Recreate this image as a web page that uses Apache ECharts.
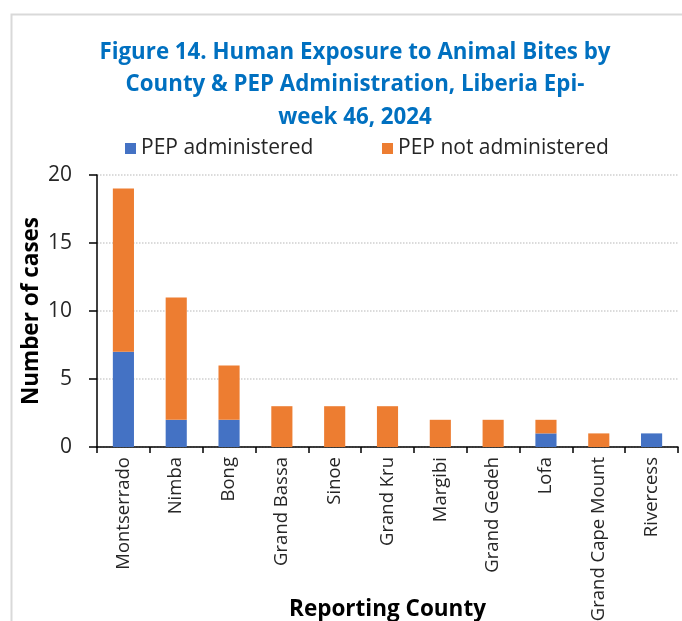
<!DOCTYPE html>
<html>
<head>
<meta charset="utf-8">
<script src="https://cdn.jsdelivr.net/npm/echarts@6/dist/echarts.min.js"></script>
<style>html,body{margin:0;padding:0;background:#fff}#c{width:682px;height:621px}</style>
</head>
<body>
<div id="c"></div>
<script>
const counties = ["Montserrado","Nimba","Bong","Grand Bassa","Sinoe","Grand Kru","Margibi","Grand Gedeh","Lofa","Grand Cape Mount","Rivercess"];
const pepAdministered = [7,2,2,0,0,0,0,0,1,0,1];
const pepNotAdministered = [12,9,4,3,3,3,2,2,1,1,0];
const yTicks = [0,5,10,15,20];
const titleLines = ["Figure 14. Human Exposure to Animal Bites by","County & PEP Administration, Liberia Epi-","week 46, 2024"];

const FONT = "'Open Sans', 'Noto Sans', sans-serif";
const chart = echarts.init(document.getElementById('c'), null, {renderer:'canvas'});
chart.setOption({
  animation:false,
  backgroundColor:'#fff',
  graphic:[{type:'rect', left:9, top:12, shape:{width:720,height:700}, style:{fill:'none', stroke:'#d9d9d9', lineWidth:2}, silent:true}],
  title:{
    text:titleLines.join('\n'), left:350, top:31, textAlign:'center',
    textStyle:{color:'#0070C0', fontFamily:FONT, fontWeight:'bold', fontSize:22.3, lineHeight:32.5}
  },
  legend:[
    {data:['PEP administered'], left:120, top:133, itemWidth:11, itemHeight:11, icon:'rect',
     textStyle:{fontFamily:FONT, fontSize:21, color:'#262626'}},
    {data:['PEP not administered'], left:377, top:133, itemWidth:11, itemHeight:11, icon:'rect',
     textStyle:{fontFamily:FONT, fontSize:21, color:'#262626'}}
  ],
  grid:{left:97, right:4, top:175, bottom:174, containLabel:false, outerBoundsMode:'none'},
  xAxis:{
    type:'category', data:counties,
    name:'Reporting County', nameLocation:'middle', nameGap:151, nameMoveOverlap:false,
    nameTextStyle:{fontFamily:FONT, fontWeight:'bold', fontSize:22.5, color:'#000'},
    axisLine:{lineStyle:{color:'#000', width:1.5}},
    axisTick:{show:true, alignWithLabel:false, length:6, lineStyle:{color:'#000', width:1.5}},
    axisLabel:{rotate:90, fontFamily:FONT, fontSize:18.5, color:'#262626', margin:10, interval:0}
  },
  yAxis:{
    type:'value', min:0, max:20, interval:5,
    name:'Number of cases', nameLocation:'middle', nameGap:54, nameMoveOverlap:false,
    nameTextStyle:{fontFamily:FONT, fontWeight:'bold', fontSize:22.5, color:'#000'},
    axisLine:{show:true, lineStyle:{color:'#000', width:1.5}},
    axisTick:{show:true, length:8, lineStyle:{color:'#000', width:1.5}},
    axisLabel:{fontFamily:FONT, fontSize:21, color:'#262626', margin:25,
      formatter:v=>yTicks.includes(v)?String(v):''},
    splitLine:{show:true, lineStyle:{color:'#d0d0d0', type:'dotted', width:1.5}}
  },
  series:[
    {name:'PEP administered', type:'bar', stack:'t', data:pepAdministered, barWidth:'40%',
     itemStyle:{color:'#4472C4'}},
    {name:'PEP not administered', type:'bar', stack:'t', data:pepNotAdministered, barWidth:'40%',
     itemStyle:{color:'#ED7D31'}}
  ]
});
</script>
</body>
</html>
